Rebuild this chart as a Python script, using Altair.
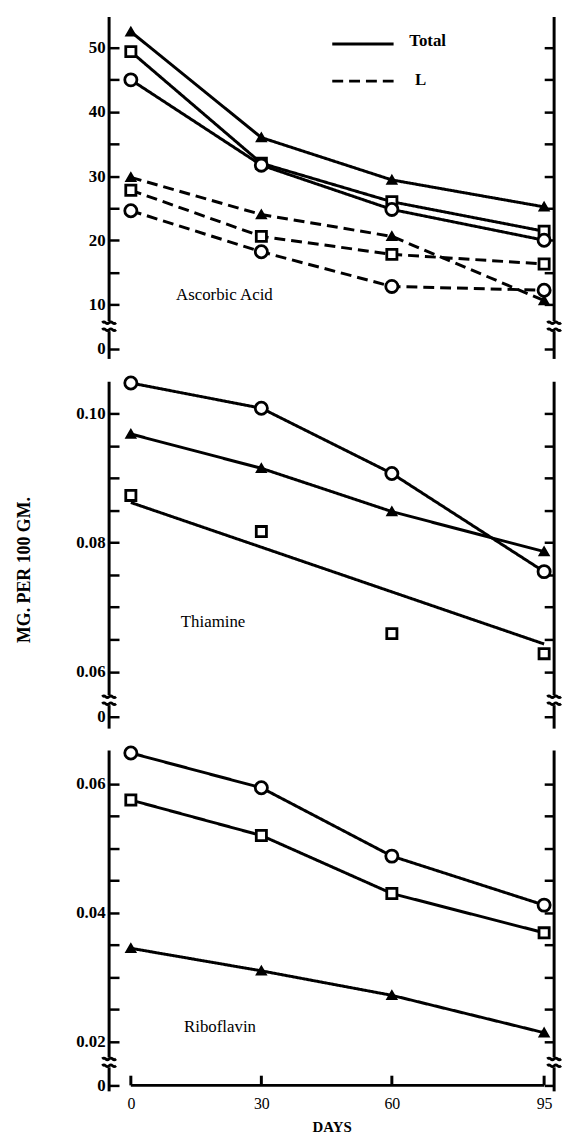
import altair as alt
import pandas as pd

FONT = "Liberation Serif"

# ---------------- data ----------------
days = [0, 30, 60, 95]

# Ascorbic acid, mg per 100 g
asc_total_triangle = [52.5, 36.0, 29.4, 25.2]
asc_total_square = [49.4, 32.0, 26.0, 21.4]
asc_total_circle = [45.0, 31.7, 24.8, 20.0]
asc_l_triangle = [29.8, 24.0, 20.6, 10.6]
asc_l_square = [27.8, 20.6, 17.8, 16.3]
asc_l_circle = [24.6, 18.2, 12.8, 12.2]

# Thiamine
thi_circle = [0.1047, 0.1008, 0.0907, 0.0755]
thi_triangle = [0.0968, 0.0915, 0.0848, 0.0786]
thi_square = [0.0873, 0.0817, 0.0659, 0.0628]
thi_square_fit_days = [0, 95]
thi_square_fit = [0.0862, 0.0643]

# Riboflavin
rib_circle = [0.0648, 0.0594, 0.0488, 0.0412]
rib_square = [0.0575, 0.0520, 0.0430, 0.0369]
rib_triangle = [0.0345, 0.0310, 0.0272, 0.0214]

# axes (broken axes: "0" shown below the break)
x_ticks = [0, 30, 60, 95]
x_domain = [-5.0, 97.3]

asc_domain = [1.5, 54.8]
asc_ticks = [10, 15, 20, 25, 30, 35, 40, 45, 50]
asc_labels = [10, 20, 30, 40, 50]
asc_label_text = ["10", "20", "30", "40", "50"]
asc_zero = 3.05
asc_break = 6.6
asc_gap = 0.77

thi_domain = [0.0512, 0.1049]
thi_ticks = [0.06, 0.065, 0.07, 0.075, 0.08, 0.085, 0.09, 0.095, 0.1]
thi_labels = [0.06, 0.08, 0.1]
thi_label_text = ["0.06", "0.08", "0.10"]
thi_zero = 0.0531
thi_break = 0.0556
thi_gap = 0.00077

rib_domain = [0.0123, 0.0652]
rib_ticks = [0.02, 0.025, 0.03, 0.035, 0.04, 0.045, 0.05, 0.055, 0.06]
rib_labels = [0.02, 0.04, 0.06]
rib_label_text = ["0.02", "0.04", "0.06"]
rib_zero = 0.01323
rib_break = 0.0168
rib_gap = 0.00077

W = 449
BREAK_PATH = ("M -1 -0.5 C -0.5 -0.95 -0.5 -0.05 0 -0.5 C 0.5 -0.95 0.5 -0.05 1 -0.5 "
              "M -1 0.5 C -0.5 0.05 -0.5 0.95 0 0.5 C 0.5 0.05 0.5 0.95 1 0.5")

MARKERS = ["circle", "square", "triangle"]
shape_enc = alt.Shape("marker:N", scale=alt.Scale(domain=MARKERS, range=["circle", "square", "triangle-up"]), legend=None)
fill_enc = alt.Fill("marker:N", scale=alt.Scale(domain=MARKERS, range=["white", "white", "black"]), legend=None)
size_enc = alt.Size("marker:N", scale=alt.Scale(domain=MARKERS, range=[150, 60, 190]), legend=None)
dash_enc = alt.StrokeDash("form:N", scale=alt.Scale(domain=["Total", "L"], range=[[1, 0], [11, 6]]), legend=None)

XSCALE = alt.Scale(domain=x_domain, nice=False, zero=False)
XAXIS_BOTTOM = alt.Axis(values=x_ticks, domain=False, ticks=False, grid=False, labelPadding=4,
                        labelFont=FONT, labelFontSize=16, labelColor="black", title="DAYS",
                        titleFont=FONT, titleFontSize=15, titleFontWeight="bold", titlePadding=8,
                        titleColor="black")


def long_df(series):
    rows = []
    for name, marker, form, xs, vals in series:
        for d, v in zip(xs, vals):
            rows.append(dict(series=name, marker=marker, form=form, day=d, value=v))
    return pd.DataFrame(rows)


def label_expr(pairs):
    expr = "''"
    for v, t in reversed(pairs):
        expr = f"datum.value == {v!r} ? '{t}' : ({expr})"
    return expr


class Axes:
    def __init__(self, domain, ticks, label_vals, label_text, zero, bottom=False):
        self.yscale = alt.Scale(domain=domain, nice=False, zero=False)
        tick_vals = [zero] + ticks
        pairs = [(zero, "0")] + list(zip(label_vals, label_text))
        self.left = alt.Axis(orient="left", values=tick_vals, labelExpr=label_expr(pairs), domain=False,
                             tickSize=10, tickWidth=2.5, tickColor="black", offset=-10, labelPadding=4,
                             labelFont=FONT, labelFontSize=17, labelFontWeight="bold", labelColor="black",
                             grid=False, title=None, labelOverlap=False)
        self.right = alt.Axis(orient="right", values=tick_vals, labels=False, domain=False,
                              tickSize=10, tickWidth=2.5, tickColor="black", offset=-10, grid=False,
                              title=None)
        self.xaxis = XAXIS_BOTTOM if bottom else None

    def X(self, field):
        return alt.X(f"{field}:Q", scale=XSCALE, axis=self.xaxis)

    def Y(self, field):
        return alt.Y(f"{field}:Q", scale=self.yscale, axis=self.left)


def panel(ax, line_df, point_df, domain, height, brk, gap, name, name_day, name_val, extra=None):
    lines = alt.Chart(line_df).mark_line(color="black", strokeWidth=3).encode(
        x=ax.X("day"), y=ax.Y("value"), detail="series:N", strokeDash=dash_enc)
    points = alt.Chart(point_df).mark_point(filled=True, stroke="black", strokeWidth=2.8, opacity=1).encode(
        x=ax.X("day"), y=ax.Y("value"), shape=shape_enc, fill=fill_enc, size=size_enc)

    seg_df = pd.DataFrame({"y": [domain[1], brk - gap], "y2": [brk + gap, domain[0]]})
    left_rule = alt.Chart(seg_df).mark_rule(color="black", strokeWidth=3).encode(
        x=alt.value(0), y=ax.Y("y"), y2="y2:Q")
    right_rule = alt.Chart(seg_df).mark_rule(color="black", strokeWidth=3).encode(
        x=alt.value(W), y=alt.Y("y:Q", scale=ax.yscale, axis=ax.right), y2="y2:Q")

    brk_df = pd.DataFrame({"y": [brk]})
    brk_l = alt.Chart(brk_df).mark_point(shape=BREAK_PATH, size=196, filled=False, stroke="black",
                                         strokeWidth=2.8, opacity=1).encode(x=alt.value(0), y=ax.Y("y"))
    brk_r = alt.Chart(brk_df).mark_point(shape=BREAK_PATH, size=196, filled=False, stroke="black",
                                         strokeWidth=2.8, opacity=1).encode(x=alt.value(W), y=ax.Y("y"))

    name_df = pd.DataFrame({"day": [name_day], "value": [name_val], "t": [name]})
    name_txt = alt.Chart(name_df).mark_text(font=FONT, fontSize=17, color="black").encode(
        x=ax.X("day"), y=ax.Y("value"), text="t:N")

    layers = [left_rule, lines, points, brk_l, brk_r, name_txt] + (extra or [])
    inner = alt.layer(*layers)
    return alt.layer(inner, right_rule).resolve_axis(y="independent").properties(width=W, height=height)


# ---------------- Ascorbic acid panel ----------------
ax1 = Axes(asc_domain, asc_ticks, asc_labels, asc_label_text, asc_zero)
asc_lines = long_df([
    ("tt", "triangle", "Total", days, asc_total_triangle),
    ("ts", "square", "Total", days, asc_total_square),
    ("tc", "circle", "Total", days, asc_total_circle),
    ("lt", "triangle", "L", days, asc_l_triangle),
    ("ls", "square", "L", days, asc_l_square),
    ("lc", "circle", "L", days, asc_l_circle),
])
legend_forms = ["Total", "L"]
legend_x = [46.3, 46.3]
legend_x2 = [60.4, 60.4]
legend_y = [50.6, 44.8]
legend_text_x = [64.0, 65.3]
legend_text_y = [51.1, 45.0]
leg_df = pd.DataFrame({"form": legend_forms, "x": legend_x, "x2": legend_x2, "y": legend_y,
                       "tx": legend_text_x, "ty": legend_text_y})
leg_rule = alt.Chart(leg_df).mark_rule(color="black", strokeWidth=3).encode(
    x=ax1.X("x"), x2="x2:Q", y=ax1.Y("y"), strokeDash=dash_enc)
leg_txt = alt.Chart(leg_df).mark_text(font=FONT, fontSize=17, fontWeight="bold", align="left",
                                      color="black").encode(x=ax1.X("tx"), y=ax1.Y("ty"), text="form:N")

p1 = panel(ax1, asc_lines, asc_lines, asc_domain, 345, asc_break, asc_gap,
           "Ascorbic Acid", 21.5, 11.4, extra=[leg_rule, leg_txt])

# ---------------- Thiamine panel ----------------
ax2 = Axes(thi_domain, thi_ticks, thi_labels, thi_label_text, thi_zero)
thi_lines = long_df([
    ("c", "circle", "Total", days, thi_circle),
    ("t", "triangle", "Total", days, thi_triangle),
    ("sfit", "fit", "Total", thi_square_fit_days, thi_square_fit),
])
thi_points = long_df([
    ("c", "circle", "Total", days, thi_circle),
    ("t", "triangle", "Total", days, thi_triangle),
    ("s", "square", "Total", days, thi_square),
])
title_df = pd.DataFrame({"t": ["MG. PER 100 GM."]})
ytitle = alt.Chart(title_df).mark_text(font=FONT, fontSize=18, fontWeight="bold", angle=270,
                                       color="black").encode(
    x=alt.value(-85), y=alt.value(190), text="t:N")
p2 = panel(ax2, thi_lines, thi_points, thi_domain, 350, thi_break, thi_gap,
           "Thiamine", 18.9, 0.0677, extra=[ytitle])

# ---------------- Riboflavin panel ----------------
ax3 = Axes(rib_domain, rib_ticks, rib_labels, rib_label_text, rib_zero, bottom=True)
rib_lines = long_df([
    ("c", "circle", "Total", days, rib_circle),
    ("s", "square", "Total", days, rib_square),
    ("t", "triangle", "Total", days, rib_triangle),
])
xaxis_df = pd.DataFrame({"x": [x_ticks[0]], "x2": [x_ticks[-1]], "y": [rib_zero]})
xaxis_line = alt.Chart(xaxis_df).mark_rule(color="black", strokeWidth=3).encode(
    x=ax3.X("x"), x2="x2:Q", y=ax3.Y("y"))
xtick_df = pd.DataFrame({"x": x_ticks, "y": [rib_zero] * 4, "y2": [rib_zero + 0.0015] * 4})
xtick_rules = alt.Chart(xtick_df).mark_rule(color="black", strokeWidth=3).encode(
    x=ax3.X("x"), y=ax3.Y("y"), y2="y2:Q")
p3 = panel(ax3, rib_lines, rib_lines, rib_domain, 344, rib_break, rib_gap,
           "Riboflavin", 20.5, 0.0223, extra=[xaxis_line, xtick_rules])

chart = alt.vconcat(p1, p2, p3, spacing=10).properties(
    padding={"left": 8, "top": 2, "right": 0, "bottom": 0}
).configure_view(strokeWidth=0)

chart.save("out.html", embed_options={"renderer": "svg", "actions": False})
